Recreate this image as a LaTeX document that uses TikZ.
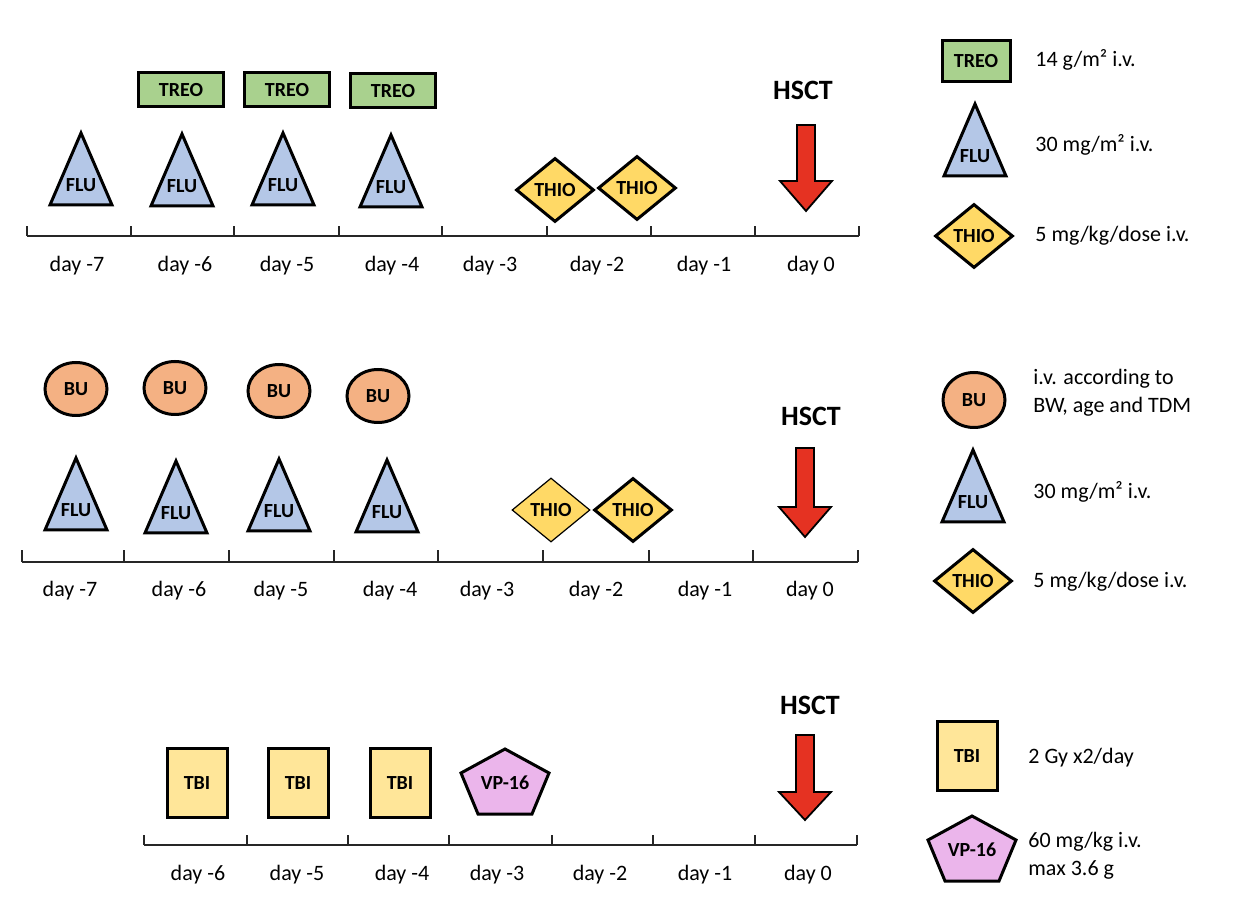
\documentclass[tikz,border=0pt]{standalone}
\usepackage{fontspec}
\setmainfont{Carlito}
\usepackage{xcolor}
\definecolor{treo_green}{HTML}{A9D18E}
\definecolor{flu_blue}{HTML}{B4C7E7}
\definecolor{thio_yellow}{HTML}{FFD966}
\definecolor{bu_orange}{HTML}{F4B183}
\definecolor{tbi_yellow}{HTML}{FFE699}
\definecolor{vp_pink}{HTML}{EBB5EB}
\definecolor{hsct_red}{HTML}{E53222}
\usetikzlibrary{shapes.geometric,positioning}

\tikzset{
    drugline/.style = {draw = black, line width = 1.5pt, line join = miter},
    druglabel/.style = {inner sep = 0pt, font = \bfseries\fontsize{10}{12}\selectfont},
    drug/.style = {drugline, druglabel},
    treo/.style = {drug, rectangle, fill = treo_green, minimum width = 42.5pt, minimum height = 17pt},
    thio/.style = {drug, diamond, aspect = 1.2, fill = thio_yellow, minimum width = 39pt, minimum height = 32pt},
    bu/.style = {drug, ellipse, fill = bu_orange, minimum width = 31pt, minimum height = 26.5pt},
    tbi/.style = {drug, rectangle, fill = tbi_yellow, minimum width = 30pt, minimum height = 34.5pt},
    axisline/.style = {draw = black!85, line width = 0.8pt},
    daylabel/.style = {inner sep = 1pt, font = \fontsize{11}{13}\selectfont},
    legtext/.style = {anchor = west, inner sep = 0pt, align = left, font = \fontsize{11}{14}\selectfont},
    hsctlabel/.style = {inner sep = 0pt, font = \bfseries\fontsize{14}{16}\selectfont},
    hsctarrow/.style = {draw = black, line width = 0.9pt, fill = hsct_red, line join = miter}
}

% triangle with text: x, apex y, name
\newcommand\flutri[3]{%
    \draw[drugline, fill = flu_blue] (#1-31,#2+72) -- (#1,#2) -- (#1+31,#2+72) -- cycle;
    \node[druglabel] (#3) at (#1,#2+52) {FLU};
}
% pentagon with text: x, centre y, name
\newcommand\vppent[3]{%
    \draw[drugline, fill = vp_pink] (#1,#2-33) -- (#1+44,#2-9) -- (#1+27,#2+32) -- (#1-27,#2+32) -- (#1-44,#2-9) -- cycle;
    \node[druglabel] (#3) at (#1,#2+1) {VP-16};
}
% block arrow down: x, shaft top, head top, tip
\newcommand\hsctdown[4]{%
    \draw[hsctarrow] (#1-9,#2) -- (#1+9,#2) -- (#1+9,#3) -- (#1+26,#3) -- (#1,#4) -- (#1-26,#3) -- (#1-9,#3) -- cycle;
}

\begin{document}
\begin{tikzpicture}[x = 0.5pt, y = -0.5pt]
\useasboundingbox (0,0) rectangle (1242,924);

% first regimen
\draw[axisline] (27,236) -- (859,236);
\foreach \x in {27,131,234,339,442,547,651,755,859}
    \draw[axisline] (\x,236) -- (\x,226);
\foreach \x/\t [count = \i] in {77/-7,185/-6,287/-5,392/-4,490/-3,597/-2,704/-1,811/0}
    \node[daylabel] (ra\i) at (\x,266) {day \t};

\node[treo] (treo1) at (181,90) {TREO};
\node[treo] (treo2) at (287,90) {TREO};
\node[treo] (treo3) at (393,91) {TREO};
\flutri{81}{133}{flua1}
\flutri{182}{134}{flua2}
\flutri{283}{133}{flua3}
\flutri{391}{135}{flua4}
\node[thio] (thioa1) at (555,190) {THIO};
\node[thio] (thioa2) at (637,188) {THIO};

\node[hsctlabel] (hscta) at (803,90) {HSCT};
\hsctdown{806}{125}{181}{211}

% second regimen
\draw[axisline] (22,562) -- (858,562);
\foreach \x in {22,124,229,334,438,543,649,753,858}
    \draw[axisline] (\x,562) -- (\x,550);
\foreach \x/\t [count = \i] in {70/-7,179/-6,281/-5,390/-4,487/-3,596/-2,705/-1,810/0}
    \node[daylabel] (rb\i) at (\x,591) {day \t};

\node[bu] (bu1) at (76,389) {BU};
\node[bu] (bu2) at (175,388) {BU};
\node[bu] (bu3) at (279,391) {BU};
\node[bu] (bu4) at (378,396) {BU};
\flutri{76}{458}{flub1}
\flutri{176}{461}{flub2}
\flutri{279}{459}{flub3}
\flutri{387}{460}{flub4}
\node[thio, line width = 0.6pt] (thiob1) at (551,510) {THIO};
\node[thio] (thiob2) at (633,510) {THIO};

\node[hsctlabel] (hsctb) at (811,416) {HSCT};
\hsctdown{805}{448}{507}{537}

% third regimen
\draw[axisline] (144,845) -- (857,845);
\foreach \x in {144,247,348,449,552,653,755,857}
    \draw[axisline] (\x,845) -- (\x,835);
\foreach \x/\t [count = \i] in {198/-6,297/-5,402/-4,497/-3,600/-2,705/-1,808/0}
    \node[daylabel] (rc\i) at (\x,875) {day \t};

\node[tbi] (tbi1) at (197,783) {TBI};
\node[tbi] (tbi2) at (298,783) {TBI};
\node[tbi] (tbi3) at (400,783) {TBI};
\vppent{505}{782}{vp1}

\node[hsctlabel] (hsctc) at (810,705) {HSCT};
\hsctdown{805}{735}{792}{820}

% legends
\node[treo, minimum width = 34pt, minimum height = 20.5pt] (legtreo) at (976,61) {TREO};
\node[legtext] (txttreo) at (1035,60) {14 g/m² i.v.};
\flutri{975}{104}{legflua}
\node[legtext] (txtflua) at (1035,145) {30 mg/m² i.v.};
\node[thio] (legthioa) at (974,236) {THIO};
\node[legtext] (txtthioa) at (1035,236) {5 mg/kg/dose i.v.};

\node[bu, minimum height = 27.5pt] (legbu) at (974,400) {BU};
\node[legtext] (txtbu) at (1033,393) {i.v. according to\\BW, age and TDM};
\flutri{973}{450}{legflub}
\node[legtext] (txtflub) at (1033,492) {30 mg/m² i.v.};
\node[thio] (legthiob) at (973,581) {THIO};
\node[legtext] (txtthiob) at (1033,582) {5 mg/kg/dose i.v.};

\node[tbi] (legtbi) at (967,756) {TBI};
\node[legtext] (txttbi) at (1028,758) {2 Gy x2/day};
\vppent{972}{849}{legvp}
\node[legtext] (txtvp) at (1028,856) {60 mg/kg i.v.\\max 3.6 g};
\end{tikzpicture}
\end{document}
